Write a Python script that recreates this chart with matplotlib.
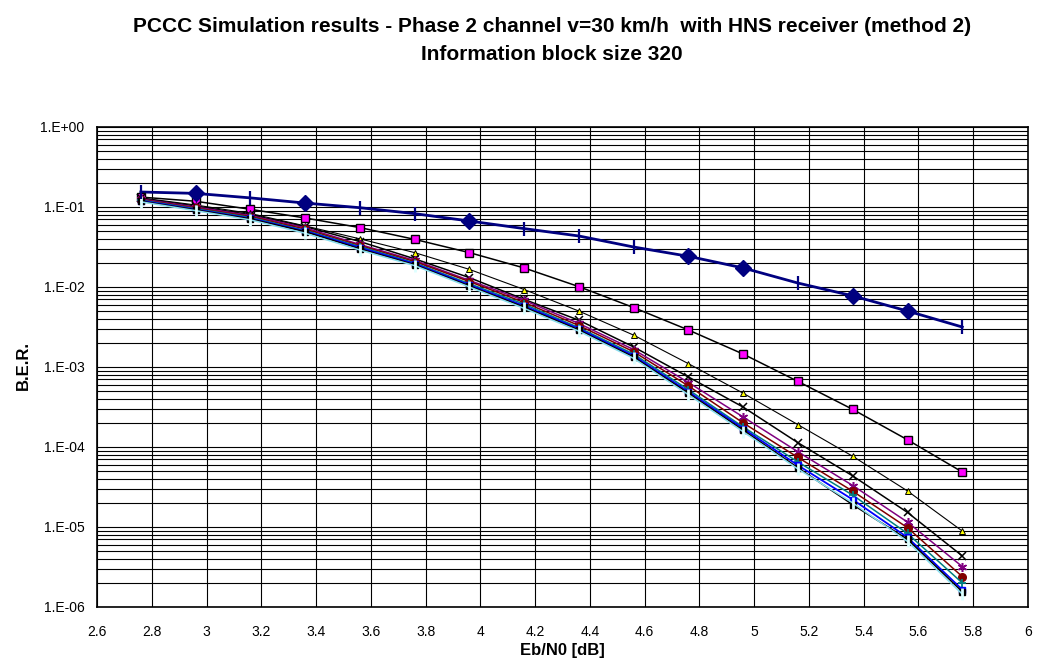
import math
import matplotlib
matplotlib.use("Agg")
import matplotlib.pyplot as plt
from matplotlib.ticker import FixedLocator, FuncFormatter, LogLocator, NullFormatter

plt.rcParams['font.family'] = ['Liberation Sans', 'DejaVu Sans']

# ---- data ----
ebn0 = [2.76, 2.96, 3.16, 3.36, 3.56, 3.76, 3.96, 4.16, 4.36, 4.56,
        4.76, 4.96, 5.16, 5.36, 5.56, 5.76]

ber_navy = [0.154, 0.148, 0.130, 0.112, 0.098, 0.0826, 0.0668, 0.0537, 0.0434, 0.0316,
            0.0242, 0.0173, 0.0112, 0.00775, 0.00501, 0.00316]
navy_diamond_idx = [1, 3, 6, 10, 11, 13, 14]
navy_bar_idx = [0, 2, 4, 5, 7, 8, 9, 12, 15]

ber_square = [0.133, 0.118, 0.0936, 0.0729, 0.0553, 0.0394, 0.0269, 0.0173, 0.0101, 0.00553,
              2.9e-3, 1.45e-3, 6.6e-4, 2.95e-4, 1.23e-4, 4.87e-5]
ber_triangle = [0.130, 0.106, 0.083, 0.058, 0.040, 0.0269, 0.0166, 0.0093, 0.0050, 0.0025,
                1.1e-3, 4.7e-4, 1.9e-4, 7.65e-5, 2.82e-5, 8.9e-6]
ber_cross = [0.128, 0.103, 0.080, 0.057, 0.037, 0.0225, 0.0131, 0.0070, 0.00384, 0.00178,
             7.5e-4, 3.15e-4, 1.13e-4, 4.35e-5, 1.52e-5, 4.35e-6]
ber_purple = [0.126, 0.100, 0.078, 0.055, 0.034, 0.0215, 0.0121, 0.0068, 0.0035, 0.00165,
              6.4e-4, 2.37e-4, 8.7e-5, 3.3e-5, 1.15e-5, 3.2e-6]
ber_darkred = [0.124, 0.097, 0.076, 0.053, 0.033, 0.0208, 0.0117, 0.0064, 0.0033, 0.00155,
               5.8e-4, 2.0e-4, 7.4e-5, 2.8e-5, 9.8e-6, 2.4e-6]
ber_teal = [0.122, 0.095, 0.074, 0.051, 0.032, 0.0200, 0.0110, 0.0061, 0.0031, 0.00145,
            5.2e-4, 1.78e-4, 6.5e-5, 2.5e-5, 8.3e-6, 2.0e-6]
ber_blue = [0.120, 0.093, 0.072, 0.050, 0.031, 0.0195, 0.0106, 0.0058, 0.0030, 0.00138,
            4.9e-4, 1.7e-4, 5.9e-5, 2.2e-5, 7.4e-6, 1.65e-6]
ber_black = [0.118, 0.092, 0.071, 0.049, 0.030, 0.0190, 0.0103, 0.0056, 0.0029, 0.00133,
             4.7e-4, 1.62e-4, 5.5e-5, 1.9e-5, 7.0e-6, 1.55e-6]
ber_cyan = [0.116, 0.090, 0.069, 0.047, 0.029, 0.0185, 0.0100, 0.0054, 0.0028, 0.00128,
            4.5e-4, 1.55e-4, 5.3e-5, 2.0e-5, 6.6e-6, 1.45e-6]

x_ticks = [2.6, 2.8, 3.0, 3.2, 3.4, 3.6, 3.8, 4.0, 4.2, 4.4, 4.6, 4.8, 5.0, 5.2, 5.4, 5.6, 5.8, 6.0]
x_ticklabels = ["2.6", "2.8", "3", "3.2", "3.4", "3.6", "3.8", "4", "4.2", "4.4",
                "4.6", "4.8", "5", "5.2", "5.4", "5.6", "5.8", "6"]

W, H = 1042, 660
fig = plt.figure(figsize=(W / 100, H / 100), dpi=100)
# plot area: x 97..1028 px, y 127..607 px
ax = fig.add_axes([97 / W, (H - 607) / H, (1028 - 97) / W, (607 - 127) / H])

ax.set_yscale('log')
ax.set_xlim(2.6, 6.0)
ax.set_ylim(1e-6, 1.0)

# grid
ax.xaxis.set_major_locator(FixedLocator(x_ticks))
ax.set_xticklabels(x_ticklabels)
ax.yaxis.set_major_locator(LogLocator(base=10, numticks=10))
ax.yaxis.set_minor_locator(LogLocator(base=10, subs=range(2, 10), numticks=20))
ax.yaxis.set_minor_formatter(NullFormatter())
ax.yaxis.set_major_formatter(FuncFormatter(lambda v, p: "1.E%+03d" % round(math.log10(v))))
ax.grid(True, which='major', axis='both', color='black', linewidth=0.8)
ax.grid(True, which='minor', axis='y', color='black', linewidth=0.8)
ax.set_axisbelow(True)
ax.tick_params(which='both', length=0, labelsize=10)
ax.tick_params(axis='y', pad=9)
ax.tick_params(axis='x', pad=13)
for s in ax.spines.values():
    s.set_linewidth(1.2)
    s.set_color('black')

# series
ax.plot(ebn0, ber_navy, color='#000080', linewidth=2, zorder=3)
ax.plot([ebn0[i] for i in navy_diamond_idx], [ber_navy[i] for i in navy_diamond_idx],
        linestyle='none', marker='D', markersize=8, color='#000080', zorder=4)
ax.plot([ebn0[i] for i in navy_bar_idx], [ber_navy[i] for i in navy_bar_idx],
        linestyle='none', marker='|', markersize=9.5, markeredgewidth=1.6, color='#000080', zorder=4)

ax.plot(ebn0, ber_square, color='black', linewidth=1.1, marker='s', markersize=5.5,
        markerfacecolor='#FF00FF', markeredgecolor='black', markeredgewidth=1, zorder=3)
ax.plot(ebn0, ber_triangle, color='black', linewidth=0.8, marker='^', markersize=4,
        markerfacecolor='#FFFF00', markeredgecolor='black', markeredgewidth=0.7, zorder=3)
ax.plot(ebn0, ber_cross, color='black', linewidth=1.1, marker='x', markersize=5.5,
        markeredgewidth=1.1, zorder=3)
ax.plot(ebn0, ber_purple, color='#800080', linewidth=1.1, marker=(6, 2, 0), markersize=6.5,
        markeredgewidth=1.1, zorder=3)
ax.plot(ebn0, ber_darkred, color='#800000', linewidth=1.1, marker='o', markersize=5.5, zorder=3)
ax.plot(ebn0, ber_teal, color='#008080', linewidth=1.1, marker='+', markersize=6,
        markeredgewidth=1.3, zorder=3)
ax.plot(ebn0, ber_blue, color='#0000FF', linewidth=1.3, marker='s', markersize=4.5, zorder=3)
ax.plot(ebn0, ber_black, color='black', linewidth=1.1, marker='s', markersize=4.5, zorder=3)
ax.plot(ebn0, ber_cyan, color='#88DDEE', linewidth=1.1, marker='|', markersize=8,
        markeredgewidth=2, markeredgecolor='#DDFFFF', zorder=3)

# titles and axis labels
title_x = 0.53
fig.text(title_x, 1 - 26 / H,
         "PCCC Simulation results - Phase 2 channel v=30 km/h  with HNS receiver (method 2)",
         ha='center', va='center', fontsize=15, fontweight='bold')
fig.text(title_x, 1 - 54 / H, "Information block size 320",
         ha='center', va='center', fontsize=15, fontweight='bold')
fig.text((97 + 1028) / 2 / W, 4.5 / H, "Eb/N0 [dB]", ha='center', va='baseline',
         fontsize=12, fontweight='bold')
fig.text(23 / W, 1 - 366 / H, "B.E.R.", ha='center', va='center', rotation=90,
         fontsize=12, fontweight='bold')

fig.savefig("out.png", dpi=100)
